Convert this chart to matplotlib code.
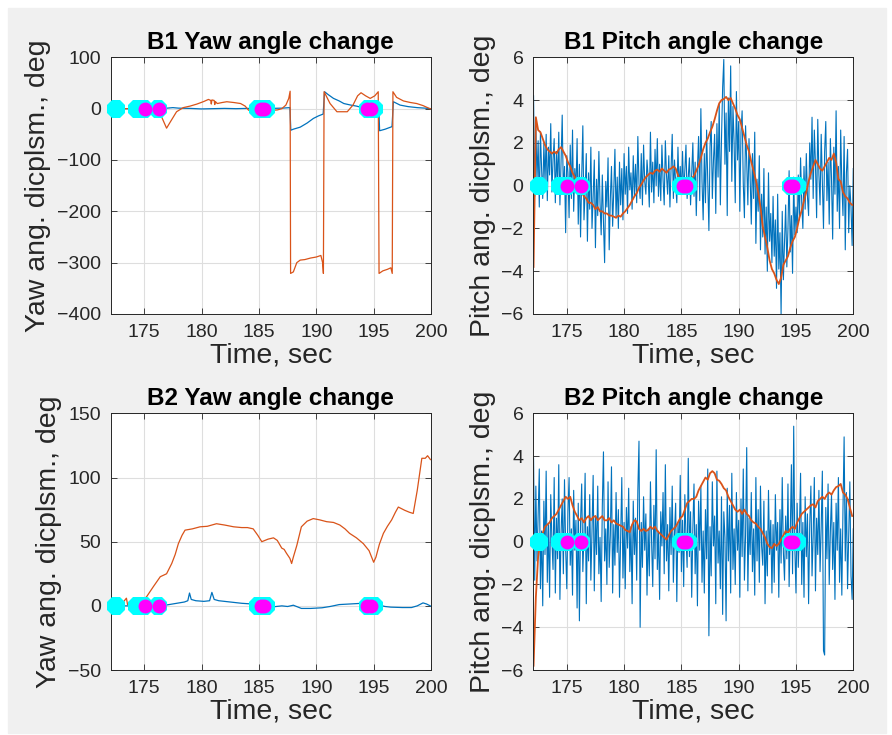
import matplotlib
matplotlib.use('Agg')
import matplotlib.pyplot as plt
from matplotlib.patches import Rectangle
import numpy as np

plt.rcParams['font.family'] = ['Liberation Sans', 'DejaVu Sans']

# 시간축 범위
t_start, t_end = 172.08, 200.0

# B1 yaw (blue / orange), knots
b1_yaw_blue_t = [172.07, 176.5, 177.0, 177.5, 178.0, 179.0, 180.0, 181.0, 182.0, 183.0, 184.0, 185.0, 186.0, 187.0,
                 187.7, 187.78, 188.0, 188.6, 189.2, 189.75, 190.2, 190.6, 190.72, 191.0, 191.5, 192.0, 192.4, 193.0,
                 193.5, 194.0, 194.4, 195.0, 195.45, 195.52, 196.0, 196.6, 196.72, 197.3, 198.0, 198.8, 199.5, 200.0]
b1_yaw_blue_v = [0, 0, 1, 2, 1, 0.5, -0.5, 0, 0.5, 0, 0.5, 0, 0.5, 1,
                 2, -42, -40, -36, -28, -19, -14, -10.5, 33, 28, 20, 15, 10, 7,
                 5, 2, 1, 0, 0, -43, -40, -35, 13.5, 7, 4, 2, 1, 0]

b1_yaw_org_t = [172.07, 175.5, 176.3, 176.95, 177.3, 177.82, 178.4, 179.0, 179.6, 180.2, 180.6, 180.8, 180.85, 180.9,
                181.1, 181.15, 181.2, 181.37, 181.8, 182.2, 182.8, 183.4, 183.8, 184.1, 184.5, 185.0, 185.7, 186.3,
                186.6, 187.0, 187.35, 187.6, 187.72, 187.76, 188.0, 188.3, 188.6, 189.0, 189.5, 190.0, 190.4, 190.55,
                190.62, 190.68, 191.2, 191.8, 192.7, 193.2, 193.6, 193.9, 194.3, 194.7, 195.1, 195.4, 195.47, 195.8,
                196.2, 196.5, 196.62, 196.68, 197.0, 197.6, 198.2, 198.75, 199.3, 199.9, 200.0]
b1_yaw_org_v = [0, 0, -5, -38, -25, -6, 2, 5, 9, 14, 18, 16, 9, 17,
                16, 8, 14, 10, 12, 13.5, 12, 10, 5, -3, -6, -5, -4, -3,
                -2.5, 0, 7, 20, 34, -321, -318, -300, -295, -294, -291, -289, -286, -300,
                -321, 33, 10, -6, -6, 7, 25, 31, 25, 20, 25, 33, -321, -316,
                -313, -310, -321, 33, 22, 15, 12, 10, 6, 0, 0]

# B2 yaw
b2_yaw_blue_t = [172.07, 176.5, 177.5, 178.5, 178.8, 178.95, 179.1, 179.5, 180.2, 180.7, 180.9, 181.1, 181.5, 182.5,
                 183.5, 184.5, 185.5, 186.3, 187.0, 187.5, 188.0, 188.7, 189.5, 190.5, 191.2, 192.0, 193.0, 194.0,
                 195.0, 196.0, 196.5, 197.5, 198.3, 198.8, 199.3, 199.6, 200.0]
b2_yaw_blue_v = [0, 0, 1.5, 3, 4, 10, 5, 4, 3.5, 4, 10.5, 5, 4, 3,
                 2, 1.4, 0, -0.7, 0, -0.5, 0.5, -2, -2, -1.5, -0.5, 1, 1.5, 2,
                 1.5, -0.5, -1, -1.3, -1.3, 0, 2.3, 1.5, -0.3]

b2_yaw_org_t = [172.07, 173.0, 173.45, 173.55, 174.5, 175.2, 175.8, 176.4, 176.95, 177.4, 177.7, 177.98, 178.3,
                178.56, 179.2, 179.87, 180.5, 181.3, 182.0, 182.8, 183.5, 184.0, 184.5, 184.9, 185.25, 185.8,
                186.27, 186.6, 186.99, 187.2, 187.4, 187.7, 187.85, 188.0, 188.3, 188.7, 189.2, 189.73, 190.3,
                190.9, 191.5, 192.05, 192.5, 192.9, 193.5, 194.1, 194.6, 195.0, 195.2, 195.5, 195.85, 196.2,
                196.57, 196.9, 197.15, 197.7, 198.1, 198.45, 198.8, 199.2, 199.5, 199.7, 199.95]
b2_yaw_org_v = [0, 1, 6, 1, 2, 7, 15, 22.7, 25, 33, 40, 48.5, 55,
                59, 60, 61.6, 62, 64, 63, 61.6, 61, 61, 60, 55, 50, 52,
                53, 51, 45, 44, 41, 37, 33, 38, 47, 61.6, 66, 68, 67,
                65.6, 65, 63, 60, 56.5, 53, 48.5, 43, 34, 38, 48, 56.5, 62,
                67, 73, 77, 74.5, 73, 72, 90, 115, 115, 117, 114]

# B1 pitch, orange every 0.2 s from 172.1
b1_pitch_org = [-3.8, 3.2, 2.6, 2.5, 2.2, 1.9, 1.7, 1.6, 1.5, 1.6,
                1.5, 1.7, 1.8, 1.6, 1.4, 1.1, 0.9, 0.6, 0.4, 0.1,
                -0.1, -0.3, -0.5, -0.6, -0.8, -0.8, -0.9, -1.1, -1.0, -1.2,
                -1.2, -1.3, -1.3, -1.4, -1.4, -1.45, -1.5, -1.4, -1.45, -1.3,
                -1.2, -1.05, -0.9, -0.7, -0.5, -0.35, -0.1, 0.05, 0.25, 0.4,
                0.5, 0.6, 0.55, 0.7, 0.75, 0.65, 0.8, 0.7, 0.6, 0.75,
                0.8, 0.9, 0.8, 0.5, 0.2, 0.1, 0.0, 0.05, 0.15, 0.35,
                0.45, 0.7, 0.95, 1.3, 1.7, 2.0, 2.2, 2.5, 2.75, 3.1,
                3.5, 3.85, 4.0, 4.05, 4.15, 4.0, 4.1, 3.85, 3.6, 3.3,
                3.1, 2.7, 2.3, 1.9, 1.6, 1.1, 0.7, 0.25, -0.3, -1.0,
                -1.9, -2.4, -2.9, -3.5, -3.9, -4.1, -4.4, -4.6, -4.3, -3.7,
                -3.5, -3.3, -2.9, -2.6, -2.4, -2.0, -1.5, -1.15, -0.7, -0.3,
                0.2, 0.6, 0.9, 1.2, 1.0, 0.8, 0.7, 0.9, 1.1, 1.3,
                1.2, 1.5, 1.1, 0.3, 0.2, -0.3, -0.5, -0.6, -0.8, -0.9]

# B1 pitch, blue every 0.1 s from 172.1
b1_pitch_blue = [4.2, -0.5, 2.8, 0.3, 2.1, -1.0, 2.5, 0.8, -0.6, 2.0,
                 0.2, 2.4, -0.7, 1.8, 0.5, 2.9, -0.3, 1.2, 2.2, -0.8,
                 1.6, 0.1, 2.5, -0.9, 1.1, 3.3, -0.4, 0.9, -2.2, 1.4,
                 0.6, -1.5, 1.9, -0.6, 2.6, -1.2, 0.8, -0.2, 2.2, -1.8,
                 1.0, -2.4, 0.4, 2.8, -1.6, -0.3, 1.5, -2.6, 0.6, -1.1,
                 1.8, -2.0, -0.5, 1.2, -2.9, 0.3, -1.4, 1.6, -0.8, -2.3,
                 0.5, -1.7, -3.6, 0.2, -1.0, 1.3, -3.0, -0.6, 0.9, -1.9,
                 -0.2, 1.7, -1.5, 0.4, -2.0, 1.1, -0.9, 0.8, -1.6, 1.5,
                 -0.4, 0.9, -1.3, 1.8, -0.2, 0.6, -1.1, 1.4, -0.5, 1.0,
                 -0.8, 2.3, 0.1, -0.6, 1.5, -0.9, 1.9, 0.2, -0.4, 1.2,
                 0.4, -1.0, 2.5, -0.3, 1.1, -0.8, 1.7, 0.0, 2.2, -0.5,
                 1.0, -0.7, 1.9, 0.3, -0.9, 2.1, 0.5, -0.4, 1.4, -1.0,
                 0.8, 2.4, -0.6, 1.2, 0.1, -0.8, 1.8, -0.2, 0.9, -0.4,
                 1.6, -0.3, 0.7, 1.9, -0.6, 0.4, 1.3, -0.9, 0.6, 2.0,
                 -0.5, 1.1, -1.4, 0.8, 2.3, -0.7, 3.6, 0.2, -1.6, 1.5,
                 -0.8, 2.6, 0.3, -2.1, 1.8, 3.0, -0.6, 1.2, 2.4, -1.3,
                 2.9, 0.4, 3.8, -0.9, 2.2, 4.6, 5.9, 1.0, 3.4, -1.4,
                 4.1, 1.6, 5.6, 0.2, 3.7, 2.0, -0.8, 4.4, 1.2, 3.0,
                 -1.2, 2.5, 3.5, 0.1, -1.5, 2.8, 1.1, -0.9, 2.2, 0.4,
                 -1.8, 1.5, -0.6, 2.5, -2.7, 0.3, -1.2, 1.4, -3.0, -0.4,
                 -2.4, 0.8, -3.2, -1.0, -4.0, 0.6, -2.6, -1.3, -3.6, -0.5,
                 -3.3, -1.6, -4.8, -0.4, -3.9, -2.2, -6.0, -1.2, -4.4, -2.7,
                 -0.9, -3.8, -2.0, 0.7, -3.1, -1.4, -4.1, 0.4, -2.3, -1.0,
                 -2.2, 0.5, -1.6, 1.3, -0.8, -2.0, 0.9, -1.1, 1.5, -0.5,
                 -1.4, 2.0, 0.3, 3.2, -0.6, 2.6, 1.0, -1.5, 3.1, 0.5,
                 -0.9, 2.4, 0.2, -2.0, 1.6, 3.0, -0.7, 1.1, -1.8, 2.2,
                 0.3, -2.5, 1.8, -0.4, 3.5, -1.2, 0.9, -2.0, 2.6, 0.1,
                 -1.4, 2.3, -3.0, 0.6, 1.7, -2.2, 0.0, -1.0, -2.8, 0.8]

# B2 pitch, orange every 0.2 s
b2_pitch_org = [-5.8, -2.6, -0.7, 0.0, 0.4, 0.7, 0.8, 0.9, 1.1, 1.2,
                1.3, 1.5, 1.7, 1.9, 2.1, 2.0, 2.1, 1.7, 1.4, 1.2,
                1.0, 1.1, 0.9, 1.1, 1.2, 1.0, 1.15, 1.2, 1.0, 1.1,
                1.2, 1.0, 1.0, 1.1, 0.9, 1.0, 0.85, 0.8, 0.75, 0.7,
                0.55, 0.5, 0.45, 0.8, 1.0, 0.95, 0.6, 0.5, 0.6, 0.5,
                0.55, 0.7, 0.6, 0.7, 0.5, 0.4, 0.3, 0.2, 0.1, 0.3,
                0.5, 0.6, 0.7, 0.9, 1.1, 1.2, 1.5, 1.8, 1.9, 2.0,
                2.0, 2.1, 2.4, 2.6, 2.8, 3.0, 2.9, 3.2, 3.3, 3.2,
                2.9, 2.85, 2.7, 2.5, 2.4, 2.1, 1.9, 1.7, 1.5, 1.4,
                1.5, 1.3, 1.5, 1.3, 1.2, 1.0, 0.9, 0.85, 0.7, 0.6,
                0.4, 0.2, -0.1, -0.25, -0.3, -0.1, -0.2, -0.1, 0.1, 0.3,
                0.5, 0.4, 0.6, 0.7, 0.6, 0.9, 1.1, 1.3, 1.4, 1.5,
                1.6, 1.7, 1.75, 1.6, 1.9, 2.0, 2.1, 2.0, 2.2, 2.3,
                2.2, 2.4, 2.55, 2.6, 2.7, 2.3, 2.2, 2.0, 1.6, 1.2]

# B2 pitch, blue every 0.1 s
b2_pitch_blue = [3.9, -1.8, 2.6, -0.9, 1.2, 3.4, -2.2, 0.5, -3.0, 1.9,
                 -0.6, 3.3, -1.9, 0.8, -2.6, 2.2, 0.1, -1.3, 3.0, -2.4,
                 1.1, -0.8, 3.6, -2.7, 0.4, 2.0, -1.5, 2.9, -0.3, -2.2,
                 1.4, 3.0, -1.1, 0.6, -2.5, 2.4, -0.4, 1.0, -3.1, 1.8,
                 -3.7, 0.9, 2.7, -1.4, 0.3, 3.2, -2.9, 0.7, -0.9, 2.2,
                 -1.8, 0.5, 3.1, -2.3, 1.2, -0.6, 2.6, -1.5, 0.2, -2.8,
                 1.7, 4.2, -0.9, 0.6, -2.0, 2.8, -1.2, 0.3, 3.5, -2.4,
                 0.8, -1.1, 2.3, -0.5, 1.5, -2.6, 0.2, 3.0, -1.7, 0.9,
                 -2.2, 1.6, -0.3, 2.5, -1.4, 0.7, -2.9, 1.9, -0.6, 1.1,
                 -1.8, 2.4, 4.7, -4.0, 0.9, -1.2, 2.1, -0.4, 1.3, -2.5,
                 0.6, -1.6, 2.8, 0.0, -2.1, 1.7, -0.8, 4.3, -1.3, 0.5,
                 -2.7, 1.4, -0.2, 2.3, -1.5, 3.6, -0.9, 0.8, -2.3, 1.6,
                 -0.6, 2.6, -1.9, 0.4, 1.8, -2.8, 0.9, -0.5, 3.1, -1.4,
                 1.0, -2.1, 2.2, 0.3, -1.2, 3.9, -0.7, 1.4, -2.6, 0.6,
                 2.7, -1.5, 0.8, -3.0, 1.9, -0.4, 2.6, -1.9, 0.5, -2.4,
                 1.5, -0.8, 3.4, -4.4, 0.7, -1.6, 2.8, -0.2, 1.2, -2.9,
                 3.3, -1.0, 0.5, -2.2, 2.1, -3.4, 1.4, 0.2, -3.7, 2.5,
                 -0.9, 1.7, -2.4, 3.2, -1.3, 0.6, -2.0, 2.3, -0.4, 1.0,
                 -2.6, 2.0, -0.7, 3.4, -1.8, 0.3, 4.4, -2.3, 1.1, -0.6,
                 2.3, -1.4, 0.6, -2.5, 3.0, -0.9, 1.5, -1.9, 2.6, -0.2,
                 -1.1, 1.9, -2.9, 0.5, -1.6, 2.4, -0.6, 1.0, -2.4, 0.8,
                 -1.9, 2.2, -0.4, 0.9, -2.6, 1.5, -1.0, 3.0, -0.5, -1.8,
                 1.2, -0.8, 2.7, -2.1, 0.4, 3.6, -1.5, 5.4, -0.3, -2.4,
                 1.8, -1.2, 0.6, 3.2, -2.0, 0.9, -2.6, 2.1, -0.7, 1.3,
                 -2.9, 0.8, 2.6, -1.6, 0.3, 3.0, -2.3, 1.1, -0.6, 2.4,
                 -1.4, 0.7, 3.3, -5.1, -5.3, 1.6, -0.8, 2.7, -2.0, 0.5,
                 2.2, -1.3, 0.9, -2.7, 1.8, -0.4, 3.0, -1.9, 0.6, -2.5,
                 1.5, 4.9, -0.9, 2.3, -2.2, 0.4, 2.8, -1.6, -2.7, 0.6]

# event markers
cyan_t = [172.55, 174.4, 175.0, 176.2, 184.95, 185.6, 194.55, 195.05]
magenta_t = [175.05, 176.25, 185.15, 185.4, 194.45, 194.77]

BLUE = '#0072BD'
ORANGE = '#D95319'

fig = plt.figure(figsize=(8.92, 7.35), dpi=100, facecolor='white')
fig.patches.append(Rectangle((8 / 892, 1 - 733 / 735), 878 / 892, 725 / 735,
                             transform=fig.transFigure, color='#F0F0F0', zorder=-10))

w, h = 0.3591, 0.3492
boxes = {'tl': [0.1241, 0.5728, w, h], 'tr': [0.5979, 0.5728, 0.3587, h],
         'bl': [0.1241, 0.0884, w, h], 'br': [0.5979, 0.0884, 0.3587, h]}


def style(ax, ylim, yticks, title, ylabel):
    ax.set_xlim(t_start, t_end)
    ax.set_ylim(*ylim)
    ax.set_xticks([175, 180, 185, 190, 195, 200])
    ax.set_yticks(yticks)
    ax.grid(True, color='#DEDEDE', lw=0.8)
    ax.set_axisbelow(True)
    ax.tick_params(direction='in', length=4, width=0.6, top=True, right=True,
                   labelsize=14, colors='#262626', pad=7)
    for s in ax.spines.values():
        s.set_color('#262626')
        s.set_linewidth(0.7)
    ax.set_title(title, fontsize=17.5, fontweight='bold', pad=6)
    ax.set_xlabel('Time, sec', fontsize=20.5, color='#262626', labelpad=1)
    ax.set_ylabel(ylabel, fontsize=20.5, color='#262626', labelpad=4)


def markers(ax):
    ax.plot(cyan_t, np.zeros(len(cyan_t)), ls='none', marker='8', ms=14.5, mfc='cyan', mew=0,
            clip_on=False, zorder=5)
    ax.plot(magenta_t, np.zeros(len(magenta_t)), ls='none', marker='o', ms=10, mfc='magenta', mew=0,
            clip_on=False, zorder=6)


t_org = 172.1 + 0.2 * np.arange(len(b1_pitch_org))
t_blue = 172.1 + 0.1 * np.arange(len(b1_pitch_blue))

ax1 = fig.add_axes(boxes['tl'])
ax1.plot(b1_yaw_blue_t, b1_yaw_blue_v, color=BLUE, lw=0.9)
ax1.plot(b1_yaw_org_t, b1_yaw_org_v, color=ORANGE, lw=0.9)
markers(ax1)
style(ax1, (-400, 100), np.arange(-400, 101, 100), 'B1 Yaw angle change', 'Yaw ang. dicplsm., deg')

ax2 = fig.add_axes(boxes['tr'])
ax2.plot(t_blue, b1_pitch_blue, color=BLUE, lw=0.8)
ax2.plot(t_org, b1_pitch_org, color=ORANGE, lw=1.3)
markers(ax2)
style(ax2, (-6, 6), np.arange(-6, 7, 2), 'B1 Pitch angle change', 'Pitch ang. dicplsm., deg')

ax3 = fig.add_axes(boxes['bl'])
ax3.plot(b2_yaw_blue_t, b2_yaw_blue_v, color=BLUE, lw=0.9)
ax3.plot(b2_yaw_org_t, b2_yaw_org_v, color=ORANGE, lw=0.9)
markers(ax3)
style(ax3, (-50, 150), np.arange(-50, 151, 50), 'B2 Yaw angle change', 'Yaw ang. dicplsm., deg')

ax4 = fig.add_axes(boxes['br'])
ax4.plot(172.1 + 0.1 * np.arange(len(b2_pitch_blue)), b2_pitch_blue, color=BLUE, lw=0.8)
ax4.plot(172.1 + 0.2 * np.arange(len(b2_pitch_org)), b2_pitch_org, color=ORANGE, lw=1.3)
markers(ax4)
style(ax4, (-6, 6), np.arange(-6, 7, 2), 'B2 Pitch angle change', 'Pitch ang. dicplsm., deg')

fig.savefig('out.png', dpi=100, facecolor=fig.get_facecolor())
